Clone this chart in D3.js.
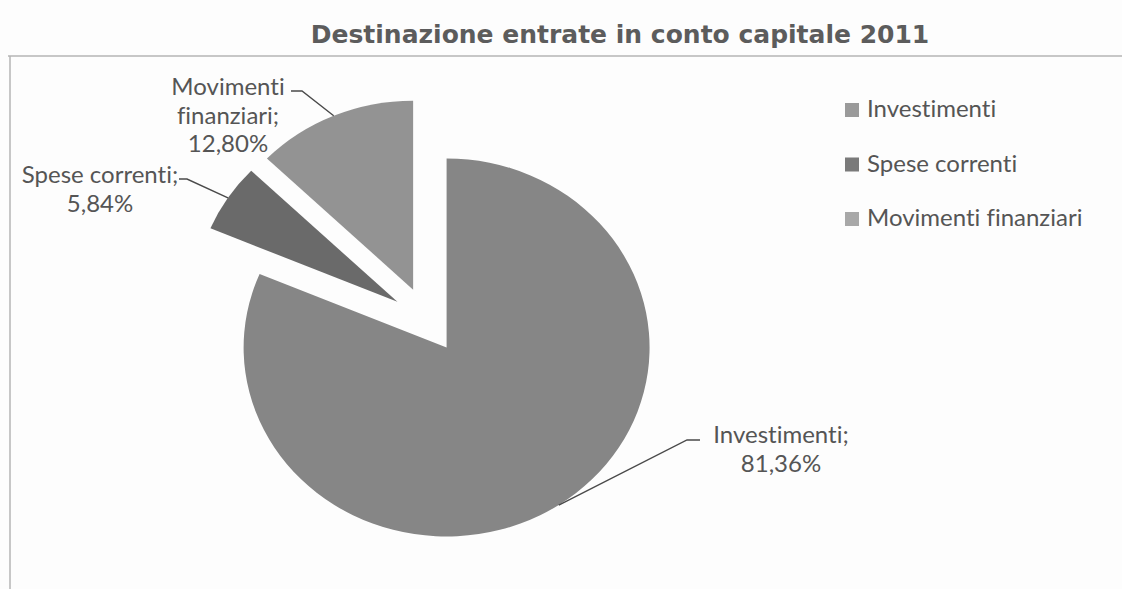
<!DOCTYPE html>
<html>
<head>
<meta charset="utf-8">
<script src="https://cdn.jsdelivr.net/npm/d3@7"></script>
<style>
    body { margin: 0; background: #fdfdfd; }
    svg { display: block; }
    text { font-variant-ligatures: none; font-feature-settings: "liga" 0; }
</style>
</head>
<body>
<div class="graphContainer"></div>
<script>
// Data
const categories = ["Investimenti", "Spese correnti", "Movimenti finanziari"];
const values = [81.36, 5.84, 12.80];
const labelNames = [["Investimenti;"], ["Spese correnti;"], ["Movimenti", "finanziari;"]];

const colors = ["#868686", "#6a6a6a", "#939393"];
const legendColors = ["#9a9a9a", "#7a7a7a", "#a8a8a8"];

const width = 1122, height = 589;

const svg = d3.select('.graphContainer')
    .append('svg')
    .attr('width', width)
    .attr('height', height);

// Frame lines (top and left)
svg.append('line')
    .attr('x1', 8).attr('x2', width)
    .attr('y1', 56).attr('y2', 56)
    .attr('stroke', '#b4b4b4')
    .attr('stroke-width', 1.5);

svg.append('line')
    .attr('x1', 10).attr('x2', 10)
    .attr('y1', 56).attr('y2', height)
    .attr('stroke', '#b4b4b4')
    .attr('stroke-width', 1.5);

// Title
svg.append('text')
    .attr('x', 620)
    .attr('y', 43)
    .attr('text-anchor', 'middle')
    .style('font-family', 'DejaVu Sans, Verdana, sans-serif')
    .style('font-weight', 'bold')
    .style('font-size', '25px')
    .style('fill', '#5c5c5c')
    .text('Destinazione entrate in conto capitale 2011');

// Pie geometry (the picture is slightly stretched horizontally)
const cx = 427, cy = 320, radius = 189, stretch = 1.074, explode = 33;

const pie = d3.pie().sort(null).value(d => d);
const arcs = pie(values);

const arc = d3.arc()
    .innerRadius(0)
    .outerRadius(radius);

const pieGroup = svg.append('g')
    .attr('transform', 'translate(' + cx + ',' + cy + ') scale(' + stretch + ',1)');

function midAngle(d) {
    return (d.startAngle + d.endAngle) / 2;
}

pieGroup.selectAll('path')
    .data(arcs)
    .enter()
    .append('path')
    .attr('d', arc)
    .attr('fill', (d, i) => colors[i])
    .attr('transform', d => {
        const a = midAngle(d);
        return 'translate(' + (explode * Math.sin(a)) + ',' + (-explode * Math.cos(a)) + ')';
    });

// Screen point on the outer edge of a slice, at its mid angle
function edgePoint(d) {
    const a = midAngle(d);
    const r = radius + explode;
    return [cx + stretch * r * Math.sin(a), cy - r * Math.cos(a)];
}

// Label layout: [elbow x, elbow y, end x, text center x, first baseline]
const labelLayout = [
    [687, 440, 700, 781, 443],
    [187, 179, 179, 100, 183],
    [302, 91, 291, 228, 95]
];

const labelFont = 'Lato, Carlito, Calibri, sans-serif';
const lineHeight = 28.5;

arcs.forEach((d, i) => {
    const p = edgePoint(d);
    const lay = labelLayout[i];

    svg.append('polyline')
        .attr('points', [p, [lay[0], lay[1]], [lay[2], lay[1]]].map(q => q.join(',')).join(' '))
        .attr('fill', 'none')
        .attr('stroke', '#4a4a4a')
        .attr('stroke-width', 1.4);

    const lines = labelNames[i].concat([values[i].toFixed(2).replace('.', ',') + '%']);

    const txt = svg.append('text')
        .attr('text-anchor', 'middle')
        .style('font-family', labelFont)
        .style('font-size', '24px')
        .style('fill', '#555555');

    lines.forEach((l, j) => {
        txt.append('tspan')
            .attr('x', lay[3])
            .attr('y', lay[4] + j * lineHeight)
            .text(l);
    });
});

// Legend
const legend = svg.append('g')
    .attr('class', 'legend')
    .attr('transform', 'translate(845,0)');

categories.forEach((c, i) => {
    const y = 117 + i * 54.5;
    legend.append('rect')
        .attr('x', 0)
        .attr('y', y - 14)
        .attr('width', 14)
        .attr('height', 14)
        .style('fill', legendColors[i]);

    legend.append('text')
        .attr('x', 22)
        .attr('y', y)
        .style('font-family', labelFont)
        .style('font-size', '24px')
        .style('fill', '#555555')
        .text(c);
});
</script>
</body>
</html>
